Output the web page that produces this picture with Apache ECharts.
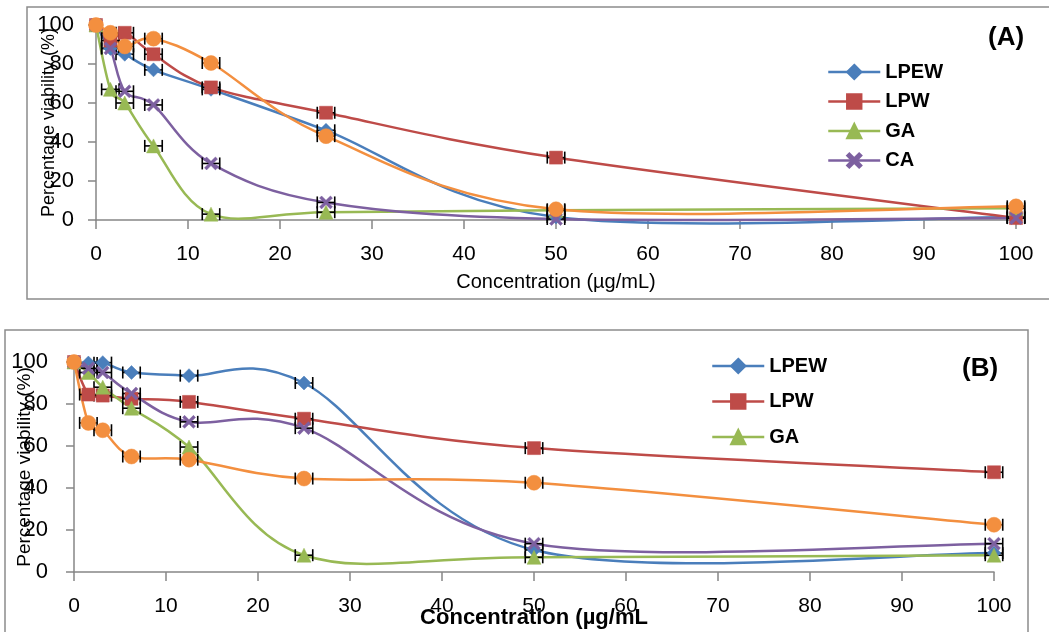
<!DOCTYPE html>
<html><head><meta charset="utf-8">
<script src="https://cdn.jsdelivr.net/npm/echarts@6/dist/echarts.min.js"></script>
<style>html,body{margin:0;padding:0;background:#fff}#c{width:1049px;height:632px}</style>
</head><body><div id="c"></div>
<script>
// ---- data ----
const concentrations = [0, 1.5625, 3.125, 6.25, 12.5, 25, 50, 100];
const xTickLabels = [0, 10, 20, 30, 40, 50, 60, 70, 80, 90, 100];
const yTickLabels = [0, 20, 40, 60, 80, 100];
const errHalfWidth = 0.95; // horizontal error bar half width (µg/mL)

// Panel A
const A_LPEW = [100, 88, 85, 77, 67, 46, 1.5, 1.5];
const A_LPW  = [100, 92, 96, 85, 68, 55, 32, 1];
const A_GA   = [100, 67, 60, 38, 3, 4, 5, 6];
const A_CA   = [100, 88, 66, 59, 29, 9, 0.5, 1];
const A_S5   = [100, 96, 89, 93, 80.5, 43, 5.5, 7];
// Panel B
const B_LPEW = [100, 99.5, 99.7, 95, 93.5, 90, 10.5, 9];
const B_LPW  = [100, 84.5, 84, 82.5, 81, 73, 59, 47.5];
const B_GA   = [100, 95, 88, 78, 59.5, 8, 7, 8];
const B_CA   = [100, 97, 95, 85, 71.5, 68.5, 13.5, 13.5];
const B_S5   = [100, 71, 67.5, 55, 53.5, 44.5, 42.5, 22.5];

// ---- styles ----
const C = {LPEW:'#4a7ebb', LPW:'#be4b48', GA:'#98b954', CA:'#7d60a0', S5:'#f38f3f'};
const SYM = {
  LPEW:'diamond', LPW:'rect', GA:'triangle', S5:'circle',
  CA:'path://M0,1.6L1.6,0L5,3.4L8.4,0L10,1.6L6.6,5L10,8.4L8.4,10L5,6.6L1.6,10L0,8.4L3.4,5Z'
};
const SYMSIZE = {LPEW:14, LPW:13, GA:14, S5:15, CA:13};
const FONT = 'Liberation Sans, Arial, sans-serif';

const chart = echarts.init(document.getElementById('c'), null, {renderer:'canvas'});

function pairs(vals){ return concentrations.map((x,i)=>[x, vals[i]]); }

// markers (line series with hidden line; the smoothed curve is drawn by curveSeries)
function markerSeries(name, key, vals, gi){
  return {
    name: name, type:'line', xAxisIndex:gi, yAxisIndex:gi,
    data: pairs(vals), z:4,
    symbol: SYM[key], symbolSize: SYMSIZE[key], showSymbol:true,
    lineStyle:{color:C[key], width:2.5, opacity:0},
    itemStyle:{color:C[key], borderColor:C[key], borderWidth:0.5, opacity:1},
    emphasis:{disabled:true}
  };
}
// Excel-style smoothed line: cubic Bezier segments with control points P1+(P2-P0)/6, P2-(P3-P1)/6
function curveSeries(key, vals, gi){
  const pts = pairs(vals);
  const n = pts.length;
  return {
    type:'custom', xAxisIndex:gi, yAxisIndex:gi, z:1, silent:true, clip:false,
    data: pts, encode:{x:0, y:1},
    renderItem: function(params, api){
      const i = params.dataIndex;
      if (i >= n - 1) return null;
      const P = (j)=> api.coord(pts[Math.max(0, Math.min(n - 1, j))]);
      const p0 = P(i - 1), p1 = P(i), p2 = P(i + 1), p3 = P(i + 2);
      return {
        type:'bezierCurve',
        shape:{
          x1:p1[0], y1:p1[1], x2:p2[0], y2:p2[1],
          cpx1:p1[0] + (p2[0] - p0[0]) / 6, cpy1:p1[1] + (p2[1] - p0[1]) / 6,
          cpx2:p2[0] - (p3[0] - p1[0]) / 6, cpy2:p2[1] - (p3[1] - p1[1]) / 6
        },
        style:{stroke:C[key], lineWidth:2.5, fill:null, lineCap:'round'}
      };
    }
  };
}
function errRender(params, api){
  const x = api.value(0), y = api.value(1);
  const p1 = api.coord([x - errHalfWidth, y]);
  const p2 = api.coord([x + errHalfWidth, y]);
  const h = 6, st = {stroke:'#000', lineWidth:1.6};
  return {type:'group', children:[
    {type:'line', shape:{x1:p1[0],y1:p1[1],x2:p2[0],y2:p2[1]}, style:st},
    {type:'line', shape:{x1:p1[0],y1:p1[1]-h,x2:p1[0],y2:p1[1]+h}, style:st},
    {type:'line', shape:{x1:p2[0],y1:p2[1]-h,x2:p2[0],y2:p2[1]+h}, style:st}
  ]};
}
function errSeries(vals, gi){
  return {
    type:'custom', xAxisIndex:gi, yAxisIndex:gi, z:2, silent:true, clip:false,
    renderItem: errRender, data: pairs(vals).slice(1),
    encode:{x:0, y:1}
  };
}
function panel(gi, list){
  const out = [];
  list.forEach(([name, key, vals]) => {
    out.push(curveSeries(key, vals, gi));
    out.push(errSeries(vals, gi));
    out.push(markerSeries(name, key, vals, gi));
  });
  return out;
}

const axisLineStyle = {lineStyle:{color:'#868686', width:1.5}};
function xAxis(gi, nameStyle, nameGap, nameText){
  return {
    type:'value', gridIndex:gi, min:0, max:100, interval:10,
    axisLine:axisLineStyle, axisTick:{show:true, inside:false, length:9, lineStyle:{color:'#868686', width:1.5}},
    splitLine:{show:false},
    axisLabel:{fontFamily:FONT, fontSize:21, color:'#000', margin:24,
      formatter:(v)=> xTickLabels.includes(v) ? String(v) : ''},
    name:nameText, nameLocation:'middle', nameGap:nameGap, nameMoveOverlap:false, nameTextStyle:nameStyle
  };
}
function yAxis(gi, nameGap, nameSize, labMargin){
  return {
    type:'value', gridIndex:gi, min:0, max:100, interval:20,
    axisLine:{show:true, ...axisLineStyle}, axisTick:{show:true, length:8, lineStyle:{color:'#868686', width:1.5}},
    splitLine:{show:false},
    axisLabel:{fontFamily:FONT, fontSize:22, color:'#000', margin:labMargin,
      formatter:(v)=> yTickLabels.includes(v) ? String(v) : ''},
    name:'Percentage viability (%)', nameLocation:'middle', nameGap:nameGap, nameMoveOverlap:false,
    nameTextStyle:{fontFamily:FONT, fontSize:nameSize, color:'#000'}
  };
}

const legendText = {fontFamily:FONT, fontSize:20, fontWeight:'bold', color:'#000'};
const legItem = (name)=>({name:name, lineStyle:{opacity:1, width:2.5}});

const option = {
  animation:false,
  backgroundColor:'#fff',
  grid:[
    {left:96, top:25, width:920, height:195, outerBoundsMode:'none', containLabel:false},
    {left:74, top:362, width:920, height:210, outerBoundsMode:'none', containLabel:false}
  ],
  xAxis:[
    xAxis(0, {fontFamily:FONT, fontSize:20, color:'#000'}, 52, 'Concentration (µg/mL)'),
    xAxis(1, {fontFamily:FONT, fontSize:22, fontWeight:'bold', color:'#000'}, 35, 'Concentration (µg/mL')
  ],
  yAxis:[ yAxis(0, 38, 18, 22), yAxis(1, 40, 19, 26) ],
  legend:[
    {data:['LPEW','LPW','GA','CA'].map(legItem), orient:'vertical', left:827, top:62, padding:0,
     itemWidth:52, itemHeight:18, itemGap:9.5, textStyle:legendText, selectedMode:false},
    {data:['LPEW','LPW','GA'].map(legItem), orient:'vertical', left:711, top:356, padding:0,
     itemWidth:52, itemHeight:18, itemGap:15.5, textStyle:legendText, selectedMode:false}
  ],
  graphic:[
    {type:'rect', shape:{x:27, y:7, width:1040, height:292}, style:{fill:'none', stroke:'#8c8c8c', lineWidth:1.5}, z:-1, silent:true},
    {type:'rect', shape:{x:5, y:330, width:1023, height:320}, style:{fill:'none', stroke:'#8c8c8c', lineWidth:1.5}, z:-1, silent:true},
    {type:'text', left:988, top:25, style:{text:'(A)', fontFamily:FONT, fontSize:26, fontWeight:'bold', fill:'#000'}},
    {type:'text', left:962, top:356, style:{text:'(B)', fontFamily:FONT, fontSize:26, fontWeight:'bold', fill:'#000'}}
  ],
  series: [].concat(
    panel(0, [['LPEW','LPEW',A_LPEW], ['LPW','LPW',A_LPW], ['GA','GA',A_GA], ['CA','CA',A_CA], ['A5','S5',A_S5]]),
    panel(1, [['LPEW','LPEW',B_LPEW], ['LPW','LPW',B_LPW], ['GA','GA',B_GA], ['CA','CA',B_CA], ['B5','S5',B_S5]])
  )
};
chart.setOption(option);
</script>
</body></html>
